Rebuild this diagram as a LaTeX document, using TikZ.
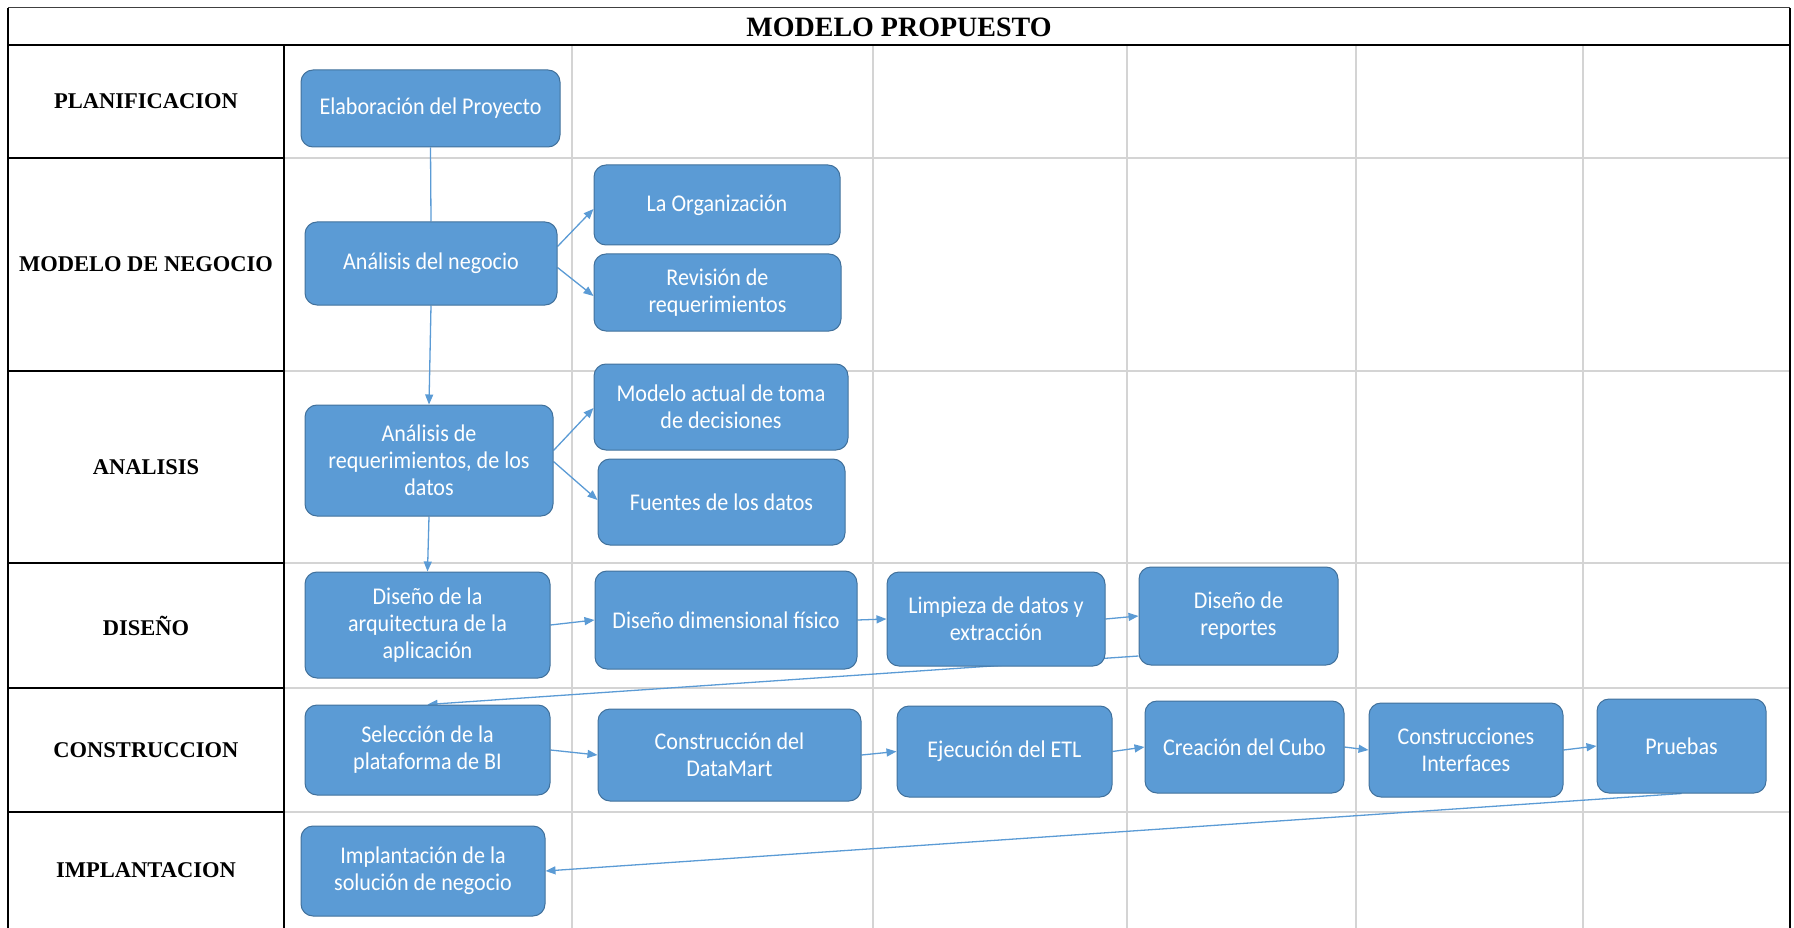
\documentclass[tikz,border=0pt]{standalone}
\usepackage{fontspec}
\setmainfont{Liberation Serif}
\newfontfamily\boxfont[FakeStretch=0.92]{Carlito}
\usetikzlibrary{arrows.meta}
\pgfdeclarelayer{background}
\pgfsetlayers{background,main}
\definecolor{boxblue}{HTML}{5B9BD5}
\definecolor{boxedge}{HTML}{41719C}
\definecolor{gridgray}{HTML}{D4D4D4}
\tikzset{
  stepbox/.style={draw=boxedge, line width=1pt, fill=boxblue, rounded corners=12pt,
    text=white, align=center, inner sep=0pt, font=\boxfont\fontsize{24}{27}\selectfont},
  flow/.style={draw=boxblue, line width=1.3pt, -{Triangle[length=10pt,width=8pt]}},
  link/.style={draw=boxblue, line width=1.3pt},
  phase/.style={font=\bfseries\fontsize{22.5}{26}\selectfont, inner sep=0pt},
  gridline/.style={draw=gridgray, line width=1.6pt},
  rule/.style={draw=black, line width=2pt},
}
\begin{document}
\begin{tikzpicture}[x=1pt,y=-1pt]
\useasboundingbox (0,0) rectangle (1794,928);

% table grid
\begin{pgfonlayer}{background}
  \foreach \gx in {572,873,1127,1356,1583}
    \draw[gridline] (\gx,45) -- (\gx,928);
  \foreach \gy in {158,371,563,688,812}
    \draw[gridline] (284,\gy) -- (1790,\gy);
  \foreach \gy in {158,371,563,688,812}
    \draw[rule] (8,\gy) -- (284,\gy);
  \draw[draw=black!75, line width=1pt] (8,8) -- (1790,8);
  \draw[rule] (8,45) -- (1790,45);
  \draw[rule] (8,8) -- (8,928);
  \draw[rule] (1790,8) -- (1790,928);
  \draw[rule] (284,45) -- (284,928);
\end{pgfonlayer}

% title and phase labels
\node[font=\bfseries\fontsize{28}{30}\selectfont, inner sep=0pt] (title) at (899,27) {MODELO PROPUESTO};
\node[phase] (pPlan) at (146,101.5) {PLANIFICACION};
\node[phase] (pNeg) at (146,264.5) {MODELO DE NEGOCIO};
\node[phase] (pAna) at (146,467) {ANALISIS};
\node[phase] (pDis) at (146,625.5) {DISEÑO};
\node[phase] (pCons) at (146,750) {CONSTRUCCION};
\node[phase] (pImpl) at (146,870) {IMPLANTACION};

% process steps
\node[stepbox, minimum width=259pt, minimum height=77pt] (elab) at (430.5,108.5) {Elaboración del Proyecto};
\node[stepbox, minimum width=252pt, minimum height=83pt] (anneg) at (431,263.5) {Análisis del negocio};
\node[stepbox, minimum width=246pt, minimum height=80pt] (org) at (717,205) {La Organización};
\node[stepbox, minimum width=247pt, minimum height=77pt] (rev) at (717.5,292.5) {Revisión de\\requerimientos};
\node[stepbox, minimum width=248pt, minimum height=111pt] (anreq) at (429,460.5) {Análisis de\\requerimientos, de los\\datos};
\node[stepbox, minimum width=254pt, minimum height=86pt] (modelo) at (721,407) {Modelo actual de toma\\de decisiones};
\node[stepbox, minimum width=247pt, minimum height=86pt] (fuentes) at (721.5,502) {Fuentes de los datos};
\node[stepbox, minimum width=245pt, minimum height=106pt] (arq) at (427.5,625) {Diseño de la\\arquitectura de la\\aplicación};
\node[stepbox, minimum width=262pt, minimum height=98pt] (dim) at (726,620) {Diseño dimensional físico};
\node[stepbox, minimum width=218pt, minimum height=94pt] (limp) at (996,619) {Limpieza de datos y\\extracción};
\node[stepbox, minimum width=199pt, minimum height=98pt] (rep) at (1238.5,616) {Diseño de\\reportes};
\node[stepbox, minimum width=245pt, minimum height=90pt] (sel) at (427.5,750) {Selección de la\\plataforma de BI};
\node[stepbox, minimum width=263pt, minimum height=92pt] (dm) at (729.5,755) {Construcción del\\DataMart};
\node[stepbox, minimum width=215pt, minimum height=91pt] (etl) at (1004.5,751.5) {Ejecución del ETL};
\node[stepbox, minimum width=199pt, minimum height=92pt] (cubo) at (1244.5,747) {Creación del Cubo};
\node[stepbox, minimum width=194pt, minimum height=94pt] (intf) at (1466,750) {Construcciones\\Interfaces};
\node[stepbox, minimum width=169pt, minimum height=94pt] (pru) at (1681.5,746) {Pruebas};
\node[stepbox, minimum width=244pt, minimum height=90pt] (impl) at (423,871) {Implantación de la\\solución de negocio};

% connectors
\begin{pgfonlayer}{background}
  \draw[link] (elab.south) -- (anneg.north);
  \draw[flow] (anneg.south) -- (anreq.north);
  \draw[flow] ([yshift=17pt]anneg.east) -- ([yshift=-4pt]org.west);
  \draw[flow] ([yshift=-4pt]anneg.east) -- ([yshift=-3.5pt]rev.west);
  \draw[flow] ([yshift=10pt]anreq.east) -- ([yshift=-1pt]modelo.west);
  \draw[flow] ([yshift=-1pt]anreq.east) -- ([yshift=2pt]fuentes.west);
  \draw[flow] (anreq.south) -- (arq.north);
  \draw[flow] (arq.east) -- (dim.west);
  \draw[flow] (dim.east) -- (limp.west);
  \draw[flow] (limp.east) -- (rep.west);
  \draw[flow] ([yshift=-40pt]rep.west) -- (sel.north);
  \draw[flow] (sel.east) -- (dm.west);
  \draw[flow] (dm.east) -- (etl.west);
  \draw[flow] (etl.east) -- (cubo.west);
  \draw[flow] (cubo.east) -- (intf.west);
  \draw[flow] (intf.east) -- (pru.west);
  \draw[flow] (pru.south) -- (impl.east);
\end{pgfonlayer}
\end{tikzpicture}
\end{document}
